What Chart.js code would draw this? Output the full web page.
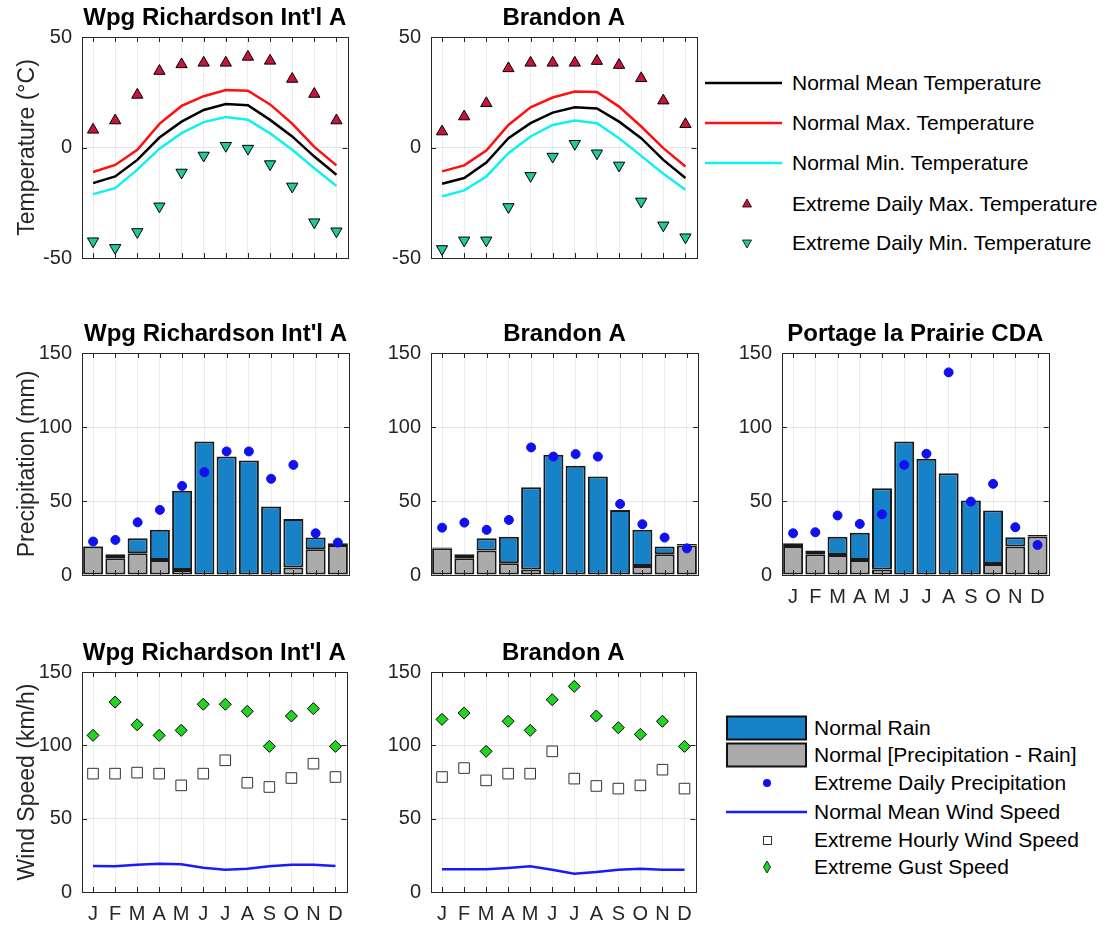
<!DOCTYPE html>
<html>
<head>
<meta charset="utf-8">
<title>Station climate normals</title>
<script src="https://cdn.jsdelivr.net/npm/chart.js@4.4.1/dist/chart.umd.min.js"></script>
<style>
    body { margin: 0; background: #fff; font-family: "Liberation Sans", Arial, sans-serif; }
    #page { position: relative; width: 1109px; height: 925px; overflow: hidden; }
    canvas { position: absolute; }
    .legend { position: absolute; color: #000; font-size: 21px; }
    .legend .row { position: absolute; left: 0; display: flex; align-items: center; white-space: nowrap; }
    .legend svg { flex: none; }
</style>
</head>
<body>
<div id="page">
    <canvas id="temp-wpg"></canvas>
    <canvas id="temp-brn"></canvas>
    <canvas id="prcp-wpg"></canvas>
    <canvas id="prcp-brn"></canvas>
    <canvas id="prcp-plp"></canvas>
    <canvas id="wind-wpg"></canvas>
    <canvas id="wind-brn"></canvas>
    <div class="legend" id="legend-temp" style="left:705px; top:0;"></div>
    <div class="legend" id="legend-prcp" style="left:726px; top:0;"></div>
</div>
<script>
const months = ['J', 'F', 'M', 'A', 'M', 'J', 'J', 'A', 'S', 'O', 'N', 'D'];
const tempTicks = [-50, 0, 50];
const amountTicks = [0, 50, 100, 150];

// Winnipeg Richardson Int'l A
const wpgMeanTemp = [-16.1, -13.1, -5.6, 4.5, 11.7, 17.0, 19.7, 19.1, 12.5, 5.0, -4.1, -12.3];
const wpgMaxTemp = [-11.1, -7.9, -1.0, 10.7, 18.8, 23.2, 26.0, 25.7, 19.5, 10.8, 0.3, -8.1];
const wpgMinTemp = [-21.1, -18.4, -10.0, -0.5, 6.5, 11.5, 13.8, 12.6, 6.4, -1.0, -9.4, -17.4];
const wpgExtMaxTemp = [8.0, 12.2, 23.8, 34.6, 37.6, 38.3, 38.3, 41.0, 39.2, 31.0, 24.2, 12.2];
const wpgExtMinTemp = [-42.4, -45.4, -38.2, -26.6, -11.3, -3.6, 0.8, -0.5, -7.5, -17.6, -33.8, -37.9];
const wpgRain = [0.4, 2.7, 10.1, 20.3, 53.6, 90.2, 80.0, 77.4, 46.2, 32.9, 7.9, 1.2];
const wpgNonRain = [19.2, 11.3, 14.7, 10.2, 3.4, 0, 0, 0, 0, 5.0, 17.4, 20.2];
const wpgExtPrecip = [22.6, 23.7, 35.6, 44.0, 60.2, 69.5, 83.5, 83.5, 65.0, 74.4, 28.2, 21.9];
const wpgMeanWind = [17.7, 17.5, 18.6, 19.3, 18.9, 16.6, 15.2, 15.9, 17.5, 18.6, 18.6, 17.7];
const wpgHourlyWind = [80.7, 80.7, 81.4, 80.7, 72.7, 80.7, 89.8, 74.5, 71.6, 77.7, 87.5, 78.4];
const wpgGustWind = [106.8, 129.5, 114.0, 106.8, 110.2, 128.0, 128.0, 123.2, 99.3, 120.0, 125.0, 99.3];

// Brandon A
const brnMeanTemp = [-16.4, -13.8, -6.8, 4.2, 11.0, 15.8, 18.2, 17.7, 11.7, 4.2, -5.6, -13.8];
const brnMaxTemp = [-10.8, -8.1, -1.4, 10.2, 18.2, 22.6, 25.3, 25.1, 18.5, 9.5, -0.3, -8.6];
const brnMinTemp = [-22.1, -19.4, -13.1, -2.6, 5.0, 10.2, 12.2, 11.0, 4.2, -3.8, -11.9, -19.1];
const brnExtMaxTemp = [7.2, 14.0, 20.0, 35.8, 38.3, 38.3, 38.3, 39.1, 37.3, 31.3, 21.2, 10.5];
const brnExtMinTemp = [-45.9, -42.0, -42.0, -26.9, -12.8, -4.1, 1.7, -2.6, -8.1, -24.4, -35.2, -40.6];
const brnRain = [0.5, 2.7, 8.3, 18.0, 55.5, 81.2, 73.8, 66.5, 44.0, 24.4, 5.2, 1.0];
const brnNonRain = [18.0, 11.3, 16.5, 7.9, 3.8, 0, 0, 0, 0, 6.1, 14.0, 20.0];
const brnExtPrecip = [32.0, 35.4, 30.5, 37.2, 86.2, 80.0, 81.7, 80.0, 48.0, 34.3, 25.3, 18.0];
const brnMeanWind = [15.5, 15.5, 15.5, 16.4, 17.5, 15.2, 12.5, 13.6, 15.2, 15.9, 15.2, 15.2];
const brnHourlyWind = [78.4, 84.5, 76.1, 80.7, 80.7, 95.9, 77.3, 72.3, 70.5, 72.7, 83.4, 70.5];
const brnGustWind = [117.7, 122.0, 95.9, 116.4, 110.2, 131.1, 140.2, 120.0, 112.0, 107.5, 116.4, 99.3];

// Portage la Prairie CDA
const plpRain = [1.8, 2.5, 12.4, 18.4, 54.8, 90.2, 78.5, 68.8, 50.3, 36.1, 6.3, 1.0];
const plpNonRain = [19.6, 14.0, 13.5, 10.2, 3.8, 0, 0, 0, 0, 7.4, 19.2, 26.0];
const plpExtPrecip = [28.2, 28.9, 40.2, 34.5, 41.0, 74.4, 81.9, 136.9, 49.6, 61.6, 32.3, 20.3];

const TITLE_H = 37;
const PAD_R = 6;
const FONT = '"Liberation Sans", Arial, sans-serif';

Chart.defaults.font.family = FONT;
Chart.defaults.color = '#262626';

// MATLAB style box with inward tick marks, title centred over the axes
const axesBox = {
    id: 'axesBox',
    afterDraw(chart, args, opts) {
        const { ctx, chartArea: a, scales: { x, y } } = chart;
        ctx.save();
        ctx.strokeStyle = '#262626';
        ctx.lineWidth = 1;
        ctx.beginPath();
        x.ticks.forEach((t, i) => {
            const px = Math.round(x.getPixelForTick(i)) + 0.5;
            ctx.moveTo(px, a.bottom); ctx.lineTo(px, a.bottom - 5);
            ctx.moveTo(px, a.top); ctx.lineTo(px, a.top + 5);
        });
        y.ticks.forEach((t, i) => {
            const py = Math.round(y.getPixelForTick(i)) + 0.5;
            ctx.moveTo(a.left, py); ctx.lineTo(a.left + 5, py);
            ctx.moveTo(a.right, py); ctx.lineTo(a.right - 5, py);
        });
        ctx.stroke();
        ctx.strokeRect(Math.round(a.left) + 0.5, Math.round(a.top) + 0.5, Math.round(a.width), Math.round(a.height));

        ctx.fillStyle = '#000';
        ctx.font = 'bold 24px ' + FONT;
        ctx.textAlign = 'center';
        ctx.textBaseline = 'middle';
        ctx.fillText(opts.title, (a.left + a.right) / 2, a.top - 19);
        ctx.restore();
    }
};

function panelOptions(p) {
    return {
        responsive: false,
        animation: false,
        events: [],
        layout: { padding: { top: TITLE_H, right: PAD_R } },
        plugins: {
            legend: { display: false },
            tooltip: { enabled: false },
            axesBox: { title: p.title }
        },
        scales: {
            x: {
                offset: true,
                grid: { offset: false, color: '#ececec', drawTicks: false },
                border: { display: false },
                ticks: { display: p.monthLabels, font: { size: 20 }, padding: 10, maxRotation: 0, autoSkip: false },
                afterFit: s => { s.height = p.xH; }
            },
            y: {
                min: p.ticks[0],
                max: p.ticks[p.ticks.length - 1],
                stacked: !!p.stacked,
                grid: { color: '#e6e6e6', drawTicks: false },
                border: { display: false },
                ticks: { font: { size: 20 }, padding: 10 },
                afterBuildTicks: s => { s.ticks = p.ticks.map(v => ({ value: v })); },
                title: {
                    display: !!p.yTitle,
                    text: p.yTitle || '',
                    color: '#262626',
                    font: { size: 23 },
                    padding: { top: 14, bottom: 4 }
                },
                afterFit: s => { s.width = p.yW; }
            }
        }
    };
}

function placeCanvas(id, plot, yW, xH) {
    const el = document.getElementById(id);
    const w = yW + plot.R - plot.L + PAD_R;
    const h = TITLE_H + plot.B - plot.T + xH;
    el.width = w;
    el.height = h;
    el.style.width = w + 'px';
    el.style.height = h + 'px';
    el.style.left = (plot.L - yW) + 'px';
    el.style.top = (plot.T - TITLE_H) + 'px';
    return el;
}

function markers(data, style, extra) {
    return Object.assign({
        type: 'line', data, showLine: false, pointStyle: style,
        pointBorderColor: '#000', pointBorderWidth: 1, order: 0
    }, extra);
}

function tempChart(id, plot, title, yTitle, yW, mean, max, min, extMax, extMin) {
    const line = (data, color) => ({ type: 'line', data, borderColor: color, borderWidth: 2.5, pointRadius: 0, tension: 0, order: 1 });
    new Chart(placeCanvas(id, plot, yW, 26), {
        type: 'line',
        data: {
            labels: months,
            datasets: [
                line(mean, '#000000'),
                line(max, '#ff1010'),
                line(min, '#10f0f0'),
                markers(extMax, 'triangle', { pointRadius: 6.5, pointBackgroundColor: '#c8143c' }),
                markers(extMin, 'triangle', { pointRadius: 6.5, pointRotation: 180, pointBackgroundColor: '#22c79c' })
            ]
        },
        options: panelOptions({ title, yTitle, yW, xH: 26, ticks: tempTicks, monthLabels: false }),
        plugins: [axesBox]
    });
}

function precipChart(id, plot, title, yTitle, yW, xH, rain, nonRain, extreme, monthLabels) {
    const bar = (data, color) => ({
        type: 'bar', data, stack: 'normal', backgroundColor: color, borderColor: '#1a1a1a',
        borderWidth: 2, borderSkipped: false, barPercentage: 0.9, categoryPercentage: 1, order: 1
    });
    new Chart(placeCanvas(id, plot, yW, xH), {
        type: 'bar',
        data: {
            labels: months,
            datasets: [
                bar(nonRain, '#ababab'),
                bar(rain, '#1782c8'),
                markers(extreme, 'circle', { stack: 'extreme', pointRadius: 4.5, pointBackgroundColor: '#1010f0', pointBorderColor: '#1010f0' })
            ]
        },
        options: panelOptions({ title, yTitle, yW, xH, ticks: amountTicks, monthLabels, stacked: true }),
        plugins: [axesBox]
    });
}

function windChart(id, plot, title, yTitle, yW, mean, hourly, gust) {
    new Chart(placeCanvas(id, plot, yW, 45), {
        type: 'line',
        data: {
            labels: months,
            datasets: [
                { type: 'line', data: mean, borderColor: '#1a1aff', borderWidth: 2.5, pointRadius: 0, tension: 0, order: 1 },
                markers(hourly, 'rect', { pointRadius: 7.5, pointBackgroundColor: '#ffffff', pointBorderColor: '#333333' }),
                markers(gust, 'rectRot', { pointRadius: 6, pointBackgroundColor: '#22d422' })
            ]
        },
        options: panelOptions({ title, yTitle, yW, xH: 45, ticks: amountTicks, monthLabels: true }),
        plugins: [axesBox]
    });
}

tempChart('temp-wpg', { L: 82, R: 349, T: 37, B: 258 }, "Wpg Richardson Int'l A", 'Temperature (°C)', 82,
    wpgMeanTemp, wpgMaxTemp, wpgMinTemp, wpgExtMaxTemp, wpgExtMinTemp);
tempChart('temp-brn', { L: 431, R: 698, T: 37, B: 258 }, 'Brandon A', null, 62,
    brnMeanTemp, brnMaxTemp, brnMinTemp, brnExtMaxTemp, brnExtMinTemp);

precipChart('prcp-wpg', { L: 82, R: 349, T: 353, B: 575 }, "Wpg Richardson Int'l A", 'Precipitation (mm)', 82, 26,
    wpgRain, wpgNonRain, wpgExtPrecip, false);
precipChart('prcp-brn', { L: 431, R: 698, T: 353, B: 575 }, 'Brandon A', null, 62, 26,
    brnRain, brnNonRain, brnExtPrecip, false);
precipChart('prcp-plp', { L: 782, R: 1049, T: 353, B: 575 }, 'Portage la Prairie CDA', null, 62, 45,
    plpRain, plpNonRain, plpExtPrecip, true);

windChart('wind-wpg', { L: 82, R: 349, T: 672, B: 892 }, "Wpg Richardson Int'l A", 'Wind Speed (km/h)', 82,
    wpgMeanWind, wpgHourlyWind, wpgGustWind);
windChart('wind-brn', { L: 431, R: 698, T: 672, B: 892 }, 'Brandon A', null, 62,
    brnMeanWind, brnHourlyWind, brnGustWind);

// legends
const lineIcon = (w, color) => `<svg width="${w}" height="20"><line x1="0" y1="10" x2="77" y2="10" stroke="${color}" stroke-width="2.5"/></svg>`;
const tempLegend = [
    { y: 83, icon: lineIcon(87, '#000000'), text: 'Normal Mean Temperature' },
    { y: 123, icon: lineIcon(87, '#ff1010'), text: 'Normal Max. Temperature' },
    { y: 163, icon: lineIcon(87, '#10f0f0'), text: 'Normal Min. Temperature' },
    { y: 204, icon: '<svg width="87" height="20"><polygon points="42,5 46.5,13 37.5,13" fill="#c8143c" stroke="#000" stroke-width="0.8"/></svg>', text: 'Extreme Daily Max. Temperature' },
    { y: 243, icon: '<svg width="87" height="20"><polygon points="42,15 46.5,7 37.5,7" fill="#22c79c" stroke="#000" stroke-width="0.8"/></svg>', text: 'Extreme Daily Min. Temperature' }
];
const prcpLegend = [
    { y: 728, icon: '<svg width="88" height="26"><rect x="1" y="1.5" width="79" height="23" fill="#1782c8" stroke="#111" stroke-width="2"/></svg>', text: 'Normal Rain' },
    { y: 755, icon: '<svg width="88" height="26"><rect x="1" y="1.5" width="79" height="23" fill="#ababab" stroke="#111" stroke-width="2"/></svg>', text: 'Normal [Precipitation - Rain]' },
    { y: 783, icon: '<svg width="88" height="20"><circle cx="41" cy="10" r="4" fill="#1010f0"/></svg>', text: 'Extreme Daily Precipitation' },
    { y: 812, icon: '<svg width="88" height="20"><line x1="0" y1="10" x2="81" y2="10" stroke="#1a1aff" stroke-width="2.5"/></svg>', text: 'Normal Mean Wind Speed' },
    { y: 840, icon: '<svg width="88" height="20"><rect x="37.5" y="6.5" width="8" height="8" fill="#fff" stroke="#333" stroke-width="1"/></svg>', text: 'Extreme Hourly Wind Speed' },
    { y: 867, icon: '<svg width="88" height="20"><polygon points="41,4 44.5,10 41,16 37.5,10" fill="#22d422" stroke="#000" stroke-width="0.8"/></svg>', text: 'Extreme Gust Speed' }
];

function buildLegend(id, items) {
    const box = document.getElementById(id);
    box.innerHTML = items.map(it =>
        `<div class="row" style="top:${it.y - 15}px; height:30px;">${it.icon}<span>${it.text}</span></div>`
    ).join('');
}

buildLegend('legend-temp', tempLegend);
buildLegend('legend-prcp', prcpLegend);
</script>
</body>
</html>
